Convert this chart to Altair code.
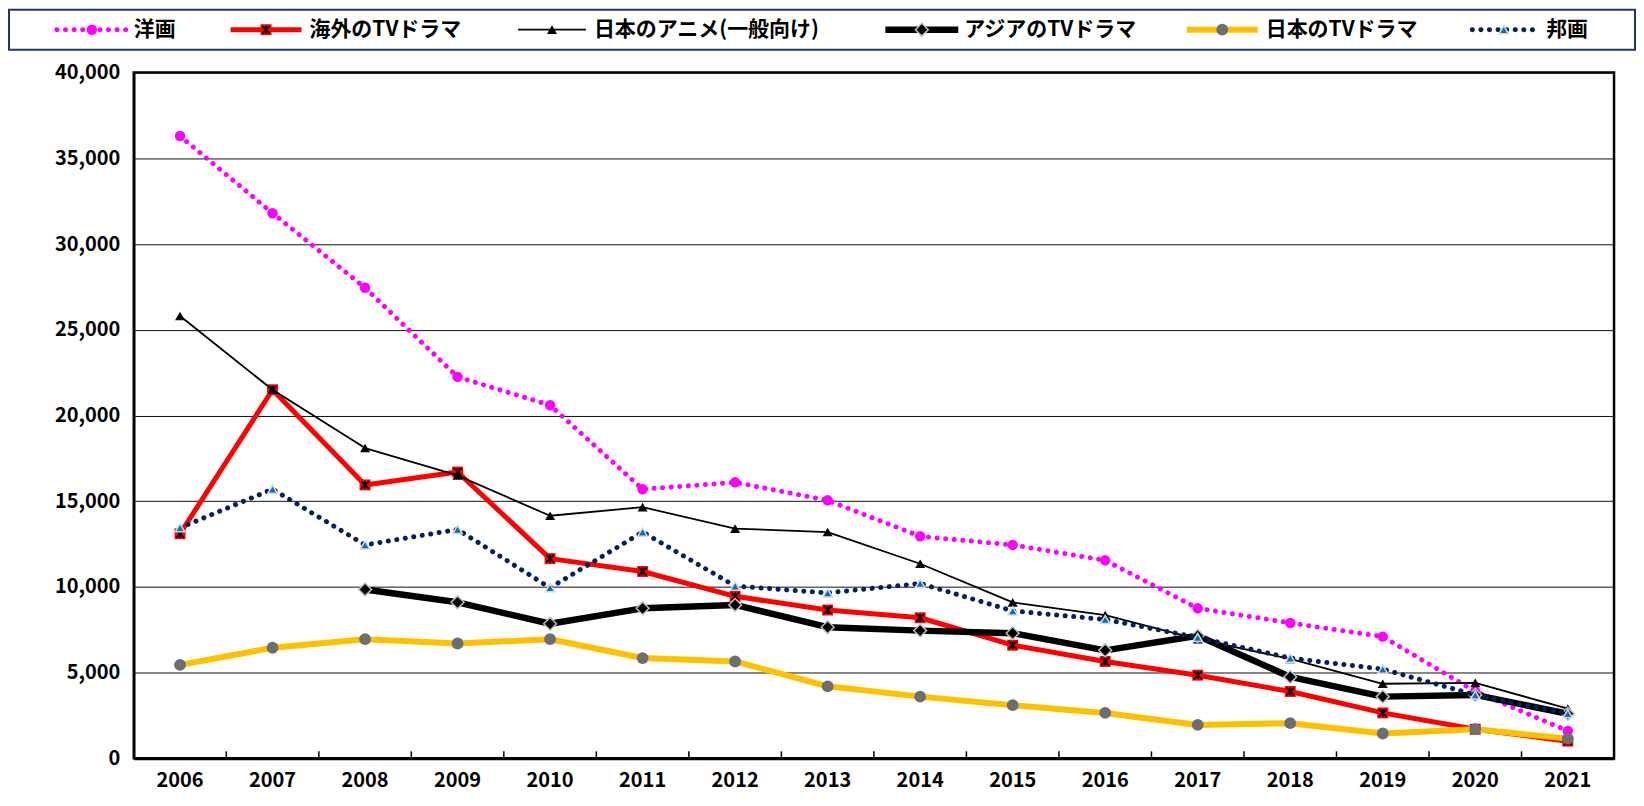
import altair as alt
import pandas as pd

# ---------------- data ----------------
years = [str(y) for y in range(2006, 2022)]
series_names = ["洋画", "海外のTVドラマ", "日本のアニメ(一般向け)", "アジアのTVドラマ", "日本のTVドラマ", "邦画"]

yoga      = [36300, 31800, 27450, 22250, 20600, 15700, 16100, 15050, 12950, 12450, 11550, 8750, 7900, 7100, 3900, 1600]
kaigai_tv = [13100, 21500, 15950, 16700, 11650, 10900, 9450, 8650, 8200, 6600, 5650, 4850, 3900, 2650, 1700, 1000]
anime     = [25800, 21500, 18100, 16500, 14150, 14650, 13400, 13200, 11350, 9100, 8350, 6950, 5800, 4350, 4400, 2900]
asia_tv   = [None, None, 9850, 9100, 7850, 8750, 8950, 7650, 7450, 7300, 6300, 7150, 4750, 3600, 3700, 2600]
nihon_tv  = [5450, 6450, 6950, 6700, 6950, 5850, 5650, 4200, 3600, 3100, 2650, 1950, 2050, 1450, 1700, 1150]
hoga      = [13450, 15700, 12450, 13350, 9950, 13200, 10050, 9650, 10200, 8600, 8100, 7050, 5850, 5200, 3700, 2600]
values = [yoga, kaigai_tv, anime, asia_tv, nihon_tv, hoga]

y_ticks = list(range(0, 40001, 5000))

# ---------------- layout / style ----------------
FONT = "Noto Sans CJK JP"
W, H = 1483, 687
AXIS_EXT = 125
LW = 1629                      # legend box width
LEG_TOP, LEG_BOT = -63, -23    # legend box, pixels above the plot area
LEG_MID = (LEG_TOP + LEG_BOT) / 2

# legend item layout (line start, line end, label start) in legend-box pixels
leg_line_start = [48, 222, 510, 878, 1180, 1466]
leg_line_end   = [118, 293, 578, 951, 1251, 1529]
leg_label_x    = [125, 301, 586, 957, 1259, 1540]

X_PATH = "M-1,-1L1,1M1,-1L-1,1M0,-1L0,1"
DOTS = [0.1, 8.5]
styles = {
    "洋画": dict(color="#FF00FF", width=5, dash=DOTS,
               markers=[dict(shape="circle", size=110, fill="#FF00FF")]),
    "海外のTVドラマ": dict(color="#FF0000", width=5, dash=None,
                     markers=[dict(shape="square", size=120, fill="#FF0000"),
                              dict(shape=X_PATH, size=60, line="black", sw=1.8)]),
    "日本のアニメ(一般向け)": dict(color="black", width=1.8, dash=None,
                          markers=[dict(shape="triangle-up", size=100, fill="black")]),
    "アジアのTVドラマ": dict(color="black", width=6.5, dash=None,
                      markers=[dict(shape="diamond", size=165, fill="black", stroke="#BFBFBF", sw=1.5)]),
    "日本のTVドラマ": dict(color="#FFC000", width=6, dash=None,
                     markers=[dict(shape="circle", size=140, fill="#6E6E6E")]),
    "邦画": dict(color="#002060", width=5, dash=DOTS,
               markers=[dict(shape="triangle-up", size=90, fill="#0070C0", stroke="#D9D9D9", sw=1.5)]),
}

rows = []
for name, vals in zip(series_names, values):
    for yr, v in zip(years, vals):
        if v is not None:
            rows.append({"year": yr, "series": name, "value": v})
df = pd.DataFrame(rows)


def line_kw(st):
    kw = dict(color=st["color"], strokeWidth=st["width"], strokeJoin="round")
    if st["dash"]:
        kw.update(strokeDash=st["dash"], strokeCap="round")
    return kw


def point_kw(m):
    kw = dict(shape=m["shape"], size=m["size"], opacity=1)
    if "fill" in m:
        kw.update(filled=True, color=m["fill"])
        if "stroke" in m:
            kw.update(stroke=m["stroke"], strokeWidth=m["sw"])
        else:
            kw.update(strokeWidth=0)
    else:
        kw.update(filled=False, color=m["line"], strokeWidth=m["sw"])
    return kw


x_axis = alt.Axis(title=None, labelAngle=0, ticks=False, grid=False,
                  domainColor="black", domainWidth=3,
                  labelFont=FONT, labelFontSize=20, labelFontWeight="bold",
                  labelColor="black", labelPadding=12)
x_scale = alt.Scale(type="band", paddingInner=0, paddingOuter=0, domain=years)


def make_x(bp):
    return alt.X("year:O", scale=x_scale, bandPosition=bp, axis=x_axis)


y_enc = alt.Y("value:Q", scale=alt.Scale(domain=[0, 40000], nice=False),
              axis=alt.Axis(title=None, values=y_ticks, format=",.0f", ticks=False,
                            grid=True, gridColor="#111111", gridWidth=1,
                            domainColor="black", domainWidth=2.5,
                            labelFont=FONT, labelFontSize=20, labelFontWeight="bold",
                            labelColor="black", labelPadding=14, minExtent=AXIS_EXT))

layers = []
base = alt.Chart(df)
for name in series_names:
    st = styles[name]
    sub = base.transform_filter(alt.datum.series == name)
    layers.append(sub.mark_line(**line_kw(st)).encode(x=make_x(0.5), y=y_enc))
    for m in st["markers"]:
        layers.append(sub.mark_point(**point_kw(m)).encode(x=make_x(0.5), y=y_enc))

# inward tick marks at band boundaries
tick_df = pd.DataFrame({"year": years[1:]})
ticks = alt.Chart(tick_df).mark_rule(color="black", strokeWidth=1.5).encode(
    x=make_x(0), y=alt.value(H - 7), y2=alt.value(H))

main = alt.layer(ticks, *layers)

# ---------------- legend (drawn above the plot area) ----------------
ldf = pd.DataFrame({
    "name": series_names,
    "x0": leg_line_start,
    "x1": leg_line_end,
    "xm": [(a + b) / 2 for a, b in zip(leg_line_start, leg_line_end)],
    "xl": leg_label_x,
})
lxs = alt.Scale(domain=[0, LW], range=[-AXIS_EXT, LW - AXIS_EXT], nice=False, zero=False)
frame = alt.Chart(pd.DataFrame({"b0": [0], "b1": [LW]})).mark_rect(
    fill="white", stroke="#1F3864", strokeWidth=2).encode(
    x=alt.X("b0:Q", scale=lxs, axis=None), x2="b1:Q",
    y=alt.value(LEG_TOP), y2=alt.value(LEG_BOT))

lbase = alt.Chart(ldf)
leg_layers = [frame]
for name in series_names:
    st = styles[name]
    sub = lbase.transform_filter(alt.datum.name == name)
    leg_layers.append(sub.mark_rule(**line_kw(st)).encode(
        x=alt.X("x0:Q", scale=lxs, axis=None), x2="x1:Q", y=alt.value(LEG_MID)))
    for m in st["markers"]:
        leg_layers.append(sub.mark_point(**point_kw(m)).encode(
            x=alt.X("xm:Q", scale=lxs, axis=None), y=alt.value(LEG_MID)))
    leg_layers.append(sub.mark_text(align="left", baseline="middle", font=FONT,
                                    fontSize=21, fontWeight="bold", color="black").encode(
        x=alt.X("xl:Q", scale=lxs, axis=None), y=alt.value(LEG_MID), text="name:N"))

legend = alt.layer(*leg_layers)

chart = alt.layer(main, legend).resolve_scale(x="independent").properties(
    width=W, height=H, background="white",
    padding={"left": 0, "top": 0, "right": 0, "bottom": 4},
    view=alt.ViewBackground(stroke="black", strokeWidth=2.5)).configure(font=FONT)

chart.save("out.html", embed_options={"renderer": "svg", "actions": False})
